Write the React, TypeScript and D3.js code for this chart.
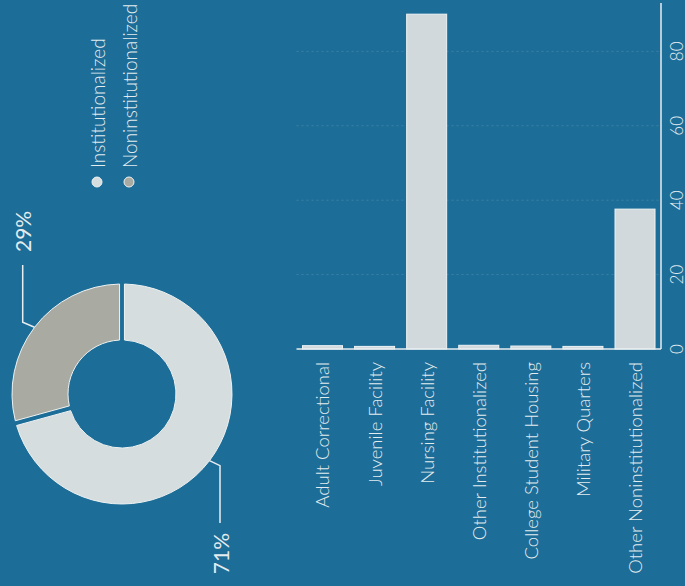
import React from "react";
import * as d3 from "d3";

const categories = [
  "Adult Correctional",
  "Juvenile Facility",
  "Nursing Facility",
  "Other Institutionalized",
  "College Student Housing",
  "Military Quarters",
  "Other Noninstitutionalized",
];
const barValues = [0.9, 0.7, 90, 1.0, 0.8, 0.7, 37.6];
const valueTicks = [0, 20, 40, 60, 80];

const pieLabels = ["Institutionalized", "Noninstitutionalized"];
const pieValues = [71, 29];
const pieText = ["71%", "29%"];

const W = 685;
const H = 586;
const BG = "#1c6d98";
const TEXT = "#e4ecef";
const FONT = "Lato, 'Open Sans', sans-serif";
const sliceColors = ["#d6dddf", "#a9aba2"];

export default function App() {
  // Unrotated frame: width = H (586), height = W (685)
  const xVal = d3.scaleLinear().domain([0, 93]).range([237, 583]);
  const yBand = d3
    .scaleBand<string>()
    .domain(categories)
    .range([296.5, 661])
    .paddingInner(0.232)
    .paddingOuter(0.115);

  const cx = 192;
  const cy = 122;
  const rOuter = 110;
  const rInner = 54;
  const pie = d3
    .pie<number>()
    .sort(null)
    .startAngle(Math.PI / 2)
    .endAngle(Math.PI / 2 + 2 * Math.PI)
    .padAngle(0.04);
  const arcs = pie(pieValues);
  const arcGen = d3.arc<d3.PieArcDatum<number>>().innerRadius(rInner).outerRadius(rOuter);

  const leader = (a: d3.PieArcDatum<number>, i: number) => {
    const mid = (a.startAngle + a.endAngle) / 2;
    const px = cx + rOuter * Math.sin(mid);
    const py = cy - rOuter * Math.cos(mid);
    if (i === 0) {
      const ly = 220;
      return { path: `M${px},${py}L${px - 5},${ly}L63,${ly}`, tx: 53, ty: ly, anchor: "end" };
    }
    const ly = 22.7;
    return { path: `M${px},${py}L${px + 5},${ly}L321,${ly}`, tx: 334, ty: ly, anchor: "start" };
  };

  return (
    <svg
      width={W}
      height={H}
      style={{ position: "absolute", left: 0, top: 0, background: BG }}
      fontFamily={FONT}
    >
      <rect x={0} y={0} width={W} height={H} fill={BG} />
      <g transform={`translate(0,${H}) rotate(-90)`}>
        {/* donut */}
        {arcs.map((a, i) => (
          <path
            key={i}
            d={arcGen(a) || ""}
            transform={`translate(${cx},${cy})`}
            fill={sliceColors[i]}
            stroke="#eef2f2"
            strokeWidth={1}
          />
        ))}
        {arcs.map((a, i) => {
          const l = leader(a, i);
          return (
            <g key={"l" + i}>
              <path d={l.path} fill="none" stroke="#e8eef0" strokeWidth={1.5} />
              <text
                x={l.tx}
                y={l.ty}
                textAnchor={l.anchor}
                dominantBaseline="central"
                fill={TEXT}
                fontSize={21}
                fontWeight={400}
              >
                {pieText[i]}
              </text>
            </g>
          );
        })}

        {/* legend */}
        {pieLabels.map((lab, i) => (
          <g key={lab}>
            <circle cx={404} cy={97 + i * 32} r={5} fill={sliceColors[i]} stroke="#eef2f2" strokeWidth={1} />
            <text
              x={418}
              y={97 + i * 32}
              dominantBaseline="central"
              fill={TEXT}
              fontSize={19}
              fontWeight={300}
            >
              {lab}
            </text>
          </g>
        ))}

        {/* gridlines */}
        {valueTicks
          .filter((t) => t > 0)
          .map((t) => (
            <line
              key={"g" + t}
              x1={xVal(t)}
              x2={xVal(t)}
              y1={yBand.range()[0]}
              y2={yBand.range()[1]}
              stroke="#ffffff"
              strokeOpacity={0.14}
              strokeDasharray="2,3"
            />
          ))}

        {/* bars */}
        {categories.map((c, i) => (
          <rect
            key={c}
            x={xVal(0)}
            y={yBand(c)}
            width={xVal(barValues[i]) - xVal(0)}
            height={yBand.bandwidth()}
            fill="#d2d9dc"
            stroke="#eef3f5"
            strokeWidth={1}
          />
        ))}

        {/* axes */}
        <line
          x1={xVal(0)}
          x2={xVal(0)}
          y1={yBand.range()[0]}
          y2={yBand.range()[1]}
          stroke="#e8eef0"
          strokeWidth={1.5}
        />
        <line
          x1={xVal(0)}
          x2={xVal.range()[1]}
          y1={yBand.range()[1]}
          y2={yBand.range()[1]}
          stroke="#e8eef0"
          strokeWidth={1.5}
        />
        {valueTicks.map((t) => (
          <text
            key={"t" + t}
            x={xVal(t)}
            y={676}
            textAnchor="middle"
            dominantBaseline="central"
            fill={TEXT}
            fontSize={17}
            fontWeight={300}
          >
            {t}
          </text>
        ))}
        {categories.map((c) => (
          <text
            key={"c" + c}
            x={224}
            y={(yBand(c) || 0) + yBand.bandwidth() / 2}
            textAnchor="end"
            dominantBaseline="central"
            fill={TEXT}
            fontSize={18.5}
            fontWeight={300}
          >
            {c}
          </text>
        ))}
      </g>
    </svg>
  );
}
